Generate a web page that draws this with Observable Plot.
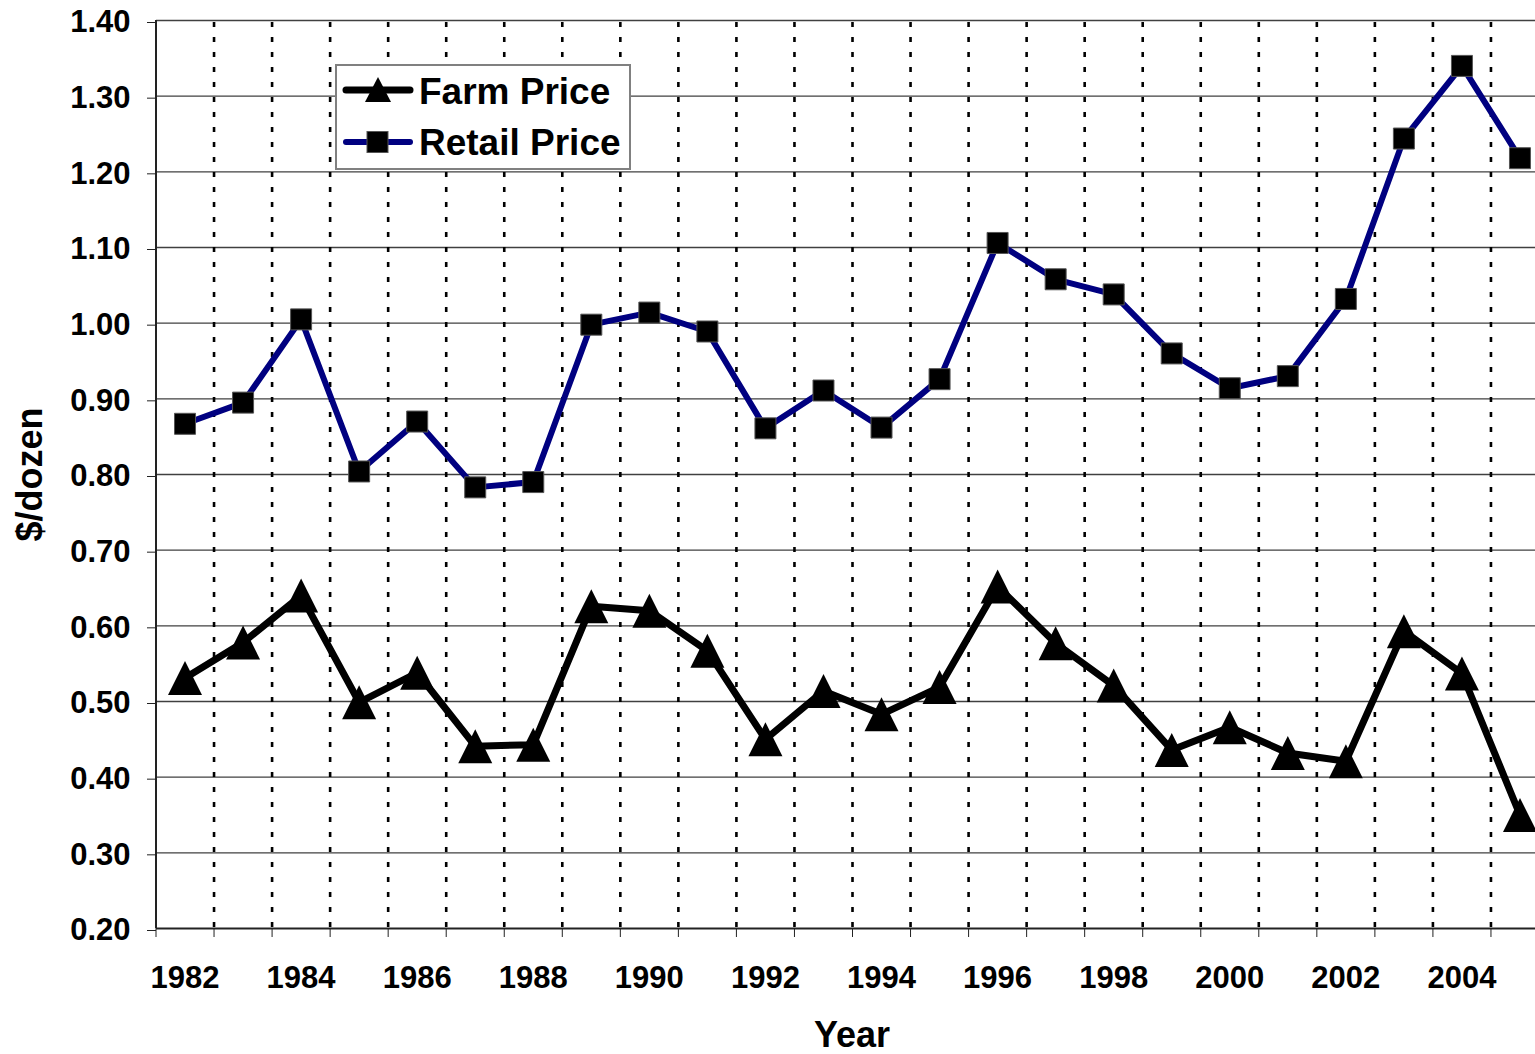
<!DOCTYPE html>
<html>
<head>
<meta charset="utf-8">
<script src="https://cdn.jsdelivr.net/npm/d3@7"></script>
<script src="https://cdn.jsdelivr.net/npm/@observablehq/plot@0.6"></script>
<style>
  html, body { margin: 0; padding: 0; background: white; }
  #wrap { position: relative; width: 1535px; height: 1054px; overflow: hidden; }
  #legend { position: absolute; left: 335px; top: 64px; }
</style>
</head>
<body>
<div id="wrap"></div>
<script>
const years = [1982, 1983, 1984, 1985, 1986, 1987, 1988, 1989, 1990, 1991, 1992, 1993,
               1994, 1995, 1996, 1997, 1998, 1999, 2000, 2001, 2002, 2003, 2004, 2005];
const farmPrice = [0.531, 0.578, 0.640, 0.499, 0.538, 0.441, 0.443, 0.626, 0.620, 0.567, 0.450, 0.514,
                   0.483, 0.519, 0.652, 0.577, 0.521, 0.436, 0.466, 0.432, 0.421, 0.593, 0.537, 0.350];
const retailPrice = [0.867, 0.895, 1.005, 0.804, 0.870, 0.783, 0.790, 0.998, 1.014, 0.989, 0.861, 0.911,
                     0.862, 0.926, 1.106, 1.058, 1.038, 0.960, 0.914, 0.930, 1.032, 1.244, 1.340, 1.218];
const yTicks = [0.20, 0.30, 0.40, 0.50, 0.60, 0.70, 0.80, 0.90, 1.00, 1.10, 1.20, 1.30, 1.40];
const xTickLabels = [1982, 1984, 1986, 1988, 1990, 1992, 1994, 1996, 1998, 2000, 2002, 2004];
const seriesNames = ["Farm Price", "Retail Price"];
const yLabel = "$/dozen";
const xLabel = "Year";

const farm = years.map((year, i) => ({year, value: farmPrice[i]}));
const retail = years.map((year, i) => ({year, value: retailPrice[i]}));
const boundaries = [years[0] - 0.5, ...years.map(y => y + 0.5)];
const innerBoundaries = boundaries.slice(1, -1);

const triangle = {
  draw(context, size) {
    const h = Math.sqrt(size / Math.PI);
    context.moveTo(0, -h);
    context.lineTo(h, h);
    context.lineTo(-h, h);
    context.closePath();
  }
};
const square = {
  draw(context, size) {
    const h = Math.sqrt(size / Math.PI);
    context.rect(-h, -h, 2 * h, 2 * h);
  }
};

const font = "'Liberation Sans', Arial, Helvetica, sans-serif";

const chart = Plot.plot({
  width: 1535,
  height: 1054,
  marginLeft: 156,
  marginRight: 0,
  marginTop: 20,
  marginBottom: 126,
  x: {domain: [boundaries[0], boundaries[boundaries.length - 1]], range: [155.5, 1548.5]},
  y: {domain: [yTicks[0], yTicks[yTicks.length - 1]]},
  style: {fontFamily: font, fontWeight: "bold", background: "white", color: "black", overflow: "hidden"},
  marks: [
    Plot.ruleY(yTicks.slice(1), {stroke: "#404040", strokeWidth: 1.4}),
    Plot.ruleX(innerBoundaries, {stroke: "black", strokeWidth: 2.6, strokeDasharray: "5,10", strokeDashoffset: -2}),
    Plot.ruleX([boundaries[0]], {stroke: "#222", strokeWidth: 2}),
    Plot.ruleY([yTicks[0]], {stroke: "#222", strokeWidth: 2}),
    Plot.axisY({ticks: yTicks, tickSize: 9, tickPadding: 17, tickFormat: d3.format(".2f"),
                fontSize: 31, fontWeight: "bold", label: null, stroke: "#222", dy: 2}),
    Plot.axisX({ticks: boundaries, tickSize: 9, tickFormat: () => "", label: null, stroke: "#222"}),
    Plot.axisX({ticks: xTickLabels, tickSize: 0, tickPadding: 37, tickFormat: d => String(d),
                fontSize: 31, fontWeight: "bold", label: null}),
    Plot.line(farm, {x: "year", y: "value", stroke: "black", strokeWidth: 7, strokeLinejoin: "round"}),
    Plot.line(retail, {x: "year", y: "value", stroke: "#000080", strokeWidth: 6, strokeLinejoin: "round"}),
    Plot.dot(farm, {x: "year", y: "value", symbol: triangle, r: 17, fill: "black"}),
    Plot.dot(retail, {x: "year", y: "value", symbol: square, r: 10.5, fill: "black", stroke: "#555", strokeWidth: 1}),
    Plot.text([yLabel], {frameAnchor: "left", dx: -126, rotate: -90, textAnchor: "middle",
                         fontSize: 36, fontWeight: "bold", lineAnchor: "middle"}),
    Plot.text([xLabel], {frameAnchor: "bottom", dx: 6, dy: 107, textAnchor: "middle",
                         fontSize: 36, fontWeight: "bold", lineAnchor: "middle"})
  ]
});

const wrap = document.getElementById("wrap");
wrap.appendChild(chart);

// Legend
const ns = "http://www.w3.org/2000/svg";
const leg = document.createElementNS(ns, "svg");
leg.setAttribute("id", "legend");
leg.setAttribute("width", 297);
leg.setAttribute("height", 107);
leg.style.fontFamily = font;
function el(tag, attrs, parent) {
  const e = document.createElementNS(ns, tag);
  for (const k in attrs) e.setAttribute(k, attrs[k]);
  (parent || leg).appendChild(e);
  return e;
}
el("rect", {x: 1, y: 1, width: 294, height: 104, fill: "white", stroke: "#808080", "stroke-width": 2});
const rows = [
  {name: seriesNames[0], color: "black", width: 7, y: 26, base: 40, sym: "tri"},
  {name: seriesNames[1], color: "#000080", width: 6, y: 78, base: 91, sym: "sq"}
];
for (const r of rows) {
  el("line", {x1: 11, x2: 75, y1: r.y, y2: r.y, stroke: r.color, "stroke-width": r.width, "stroke-linecap": "round"});
  if (r.sym === "tri") {
    el("path", {d: `M43,${r.y - 13}L56,${r.y + 12}L30,${r.y + 12}Z`, fill: "black"});
  } else {
    el("rect", {x: 32, y: r.y - 10.5, width: 21, height: 21, fill: "black", stroke: "#555", "stroke-width": 1});
  }
  const t = el("text", {x: 84, y: r.base, "font-size": 37, "font-weight": "bold", fill: "black"});
  t.textContent = r.name;
}
wrap.appendChild(leg);
</script>
</body>
</html>
